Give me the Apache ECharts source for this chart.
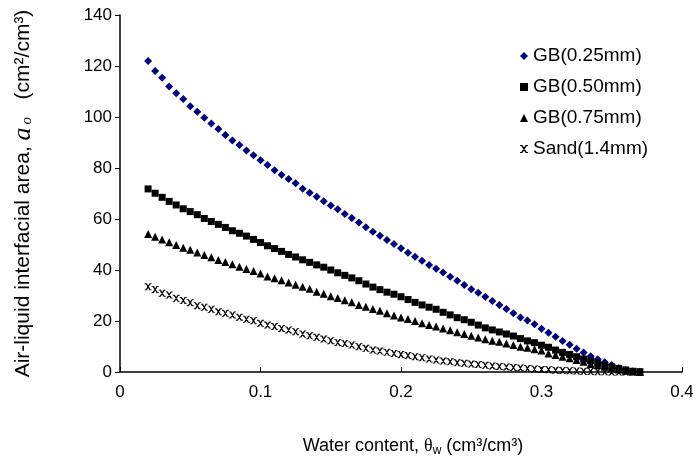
<!DOCTYPE html>
<html>
<head>
<meta charset="utf-8">
<script src="https://cdn.jsdelivr.net/npm/echarts@6/dist/echarts.min.js"></script>
<style>
  html, body { margin: 0; padding: 0; background: #fff; }
  #chart { width: 696px; height: 464px; }
</style>
</head>
<body>
<div id="chart"></div>
<script>
// water content, 0.02 .. 0.37 step 0.005
var waterContent = [];
for (var i = 0; i <= 70; i++) waterContent.push(+(0.02 + i * 0.005).toFixed(3));

var gb025 = [122.0, 118.0, 115.4, 112.0, 109.3, 107.1, 104.2, 102.1, 99.7, 97.5,
  95.3, 92.9, 90.8, 89.0, 86.9, 85.0, 83.0, 81.2, 79.1, 77.4,
  75.7, 74.0, 71.9, 70.3, 68.7, 67.0, 65.3, 63.8, 62.0, 60.4,
  58.6, 56.8, 55.0, 53.4, 51.8, 50.2, 48.5, 46.8, 45.2, 43.6,
  42.0, 40.5, 39.0, 37.4, 35.8, 34.1, 32.5, 31.1, 29.5, 27.8,
  26.3, 24.7, 23.0, 21.4, 20.2, 18.7, 17.0, 15.4, 13.8, 12.2,
  10.7, 9.1, 7.6, 6.2, 5.0, 3.8, 2.7, 1.5, 0.7, 0.2, 0.0];

var gb050 = [71.8, 70.1, 68.5, 66.9, 65.5, 64.0, 62.9, 61.7, 60.2, 59.0,
  57.9, 56.7, 55.4, 54.4, 53.3, 52.0, 50.8, 49.5, 48.4, 47.3,
  46.1, 45.1, 44.0, 43.0, 42.0, 41.1, 40.0, 38.9, 37.9, 36.9,
  35.8, 34.5, 33.3, 32.3, 31.3, 30.5, 29.5, 28.4, 27.3, 26.3,
  25.4, 24.6, 23.4, 22.4, 21.3, 20.5, 19.5, 18.4, 17.3, 16.5,
  15.7, 14.9, 14.1, 13.1, 12.2, 11.5, 10.5, 9.7, 8.6, 7.7,
  6.9, 6.0, 5.1, 4.4, 3.4, 2.6, 2.0, 1.4, 0.8, 0.3, 0.1];

var gb075 = [54.1, 53.0, 52.0, 50.9, 49.8, 48.7, 47.9, 46.9, 45.9, 45.0,
  43.9, 43.1, 42.3, 41.3, 40.4, 39.6, 38.6, 37.5, 36.8, 36.0,
  35.1, 34.2, 33.4, 32.6, 31.5, 30.7, 29.7, 29.0, 28.1, 27.4,
  26.3, 25.6, 24.7, 24.0, 23.0, 22.2, 21.4, 20.8, 20.0, 19.1,
  18.4, 17.8, 17.1, 16.4, 15.6, 14.9, 14.2, 13.5, 12.8, 12.3,
  11.9, 11.2, 10.6, 9.9, 9.5, 8.9, 8.4, 7.3, 6.7, 6.0,
  5.4, 4.7, 4.0, 3.1, 2.6, 2.1, 1.5, 1.0, 0.5, 0.2, 0.0];

var sand14 = [33.4, 32.4, 30.9, 30.2, 28.9, 28.0, 27.2, 26.0, 25.4, 24.6,
  23.6, 23.0, 22.4, 21.5, 20.7, 20.1, 19.1, 18.4, 17.8, 17.1,
  16.5, 15.8, 14.9, 14.2, 13.6, 12.9, 12.3, 11.6, 11.2, 10.6,
  9.9, 9.3, 8.6, 8.2, 7.7, 7.3, 6.9, 6.5, 6.0, 5.6,
  5.1, 4.7, 4.3, 4.0, 3.6, 3.4, 3.1, 2.9, 2.6, 2.4,
  2.2, 2.0, 1.8, 1.6, 1.4, 1.2, 1.0, 0.9, 0.7, 0.6,
  0.5, 0.4, 0.3, 0.2, 0.1, 0.1, 0.0, 0.0, 0.0, 0.0, 0.0];

var seriesNames = ['GB(0.25mm)', 'GB(0.50mm)', 'GB(0.75mm)', 'Sand(1.4mm)'];

// x-like marker with small bars top and bottom
var sandSymbol = 'path://M0,0 L3,0 L3,1.2 L0,1.2 Z M7,0 L10,0 L10,1.2 L7,1.2 Z M0,8.8 L3,8.8 L3,10 L0,10 Z M7,8.8 L10,8.8 L10,10 L7,10 Z M0.8,0 L3,0 L9.2,10 L7,10 Z M7,0 L9.2,0 L3,10 L0.8,10 Z';

function pairs(ys) {
  return ys.map(function (y, k) { return [waterContent[k], y]; });
}

function makeSerie(name, ys, symbol, size, color) {
  return {
    name: name,
    type: 'scatter',
    data: pairs(ys),
    symbol: symbol,
    symbolSize: size,
    itemStyle: { color: color, opacity: 1 },
    animation: false
  };
}

var font = '"Liberation Sans", Arial, sans-serif';
var serif = '"Liberation Serif", "Times New Roman", serif';
var chart = echarts.init(document.getElementById('chart'));

chart.setOption({
  backgroundColor: '#fff',
  textStyle: { fontFamily: font, color: '#000' },
  grid: { left: 120, right: 14, top: 15, bottom: 92, outerBoundsMode: 'none' },
  legend: {
    orient: 'vertical',
    left: 515,
    top: 41,
    itemGap: 11,
    itemWidth: 8,
    itemHeight: 8,
    data: [
      { name: seriesNames[0], icon: 'diamond', itemStyle: { color: '#000080' } },
      { name: seriesNames[1], icon: 'rect' },
      { name: seriesNames[2], icon: 'triangle' },
      { name: seriesNames[3], icon: sandSymbol }
    ],
    textStyle: { fontFamily: font, fontSize: 19, color: '#000', lineHeight: 20 }
  },
  xAxis: {
    type: 'value',
    min: 0,
    max: 0.4,
    interval: 0.1,
    splitLine: { show: false },
    axisLine: { lineStyle: { color: '#000', width: 1.5 } },
    axisTick: { inside: true, length: 5, lineStyle: { color: '#000' } },
    axisLabel: { color: '#000', fontSize: 17, margin: 12, fontFamily: font },
    name: '{t|Water content, }{g|θ}{s|w}{t| (cm³/cm³)}',
    nameLocation: 'middle',
    nameGap: 64,
    nameTextStyle: {
      padding: [0, 0, 0, 24],
      rich: {
        t: { fontFamily: font, fontSize: 18, color: '#000' },
        g: { fontFamily: serif, fontSize: 18, color: '#000' },
        s: { fontFamily: font, fontSize: 12, color: '#000', padding: [9, 0, 0, 0] }
      }
    }
  },
  yAxis: {
    type: 'value',
    min: 0,
    max: 140,
    interval: 20,
    splitLine: { show: false },
    axisLine: { show: true, lineStyle: { color: '#000', width: 1.5 } },
    axisTick: { show: true, inside: false, length: 5, lineStyle: { color: '#000' } },
    axisLabel: { color: '#000', fontSize: 17, margin: 8, fontFamily: font },
    name: '{t|Air-liquid interfacial area, }{a|a}{s|o}{t|   (cm²/cm³)}',
    nameLocation: 'middle',
    nameRotate: 90,
    nameGap: 84,
    nameTextStyle: {
      rich: {
        t: { fontFamily: font, fontSize: 21, color: '#000' },
        a: { fontFamily: serif, fontStyle: 'italic', fontSize: 26, color: '#000' },
        s: { fontFamily: serif, fontStyle: 'italic', fontSize: 15, color: '#000', padding: [9, 0, 0, 3] }
      }
    }
  },
  series: [
    makeSerie(seriesNames[0], gb025, 'diamond', 8, '#000080'),
    makeSerie(seriesNames[1], gb050, 'rect', 7, '#000'),
    makeSerie(seriesNames[2], gb075, 'triangle', 8, '#000'),
    makeSerie(seriesNames[3], sand14, sandSymbol, 7, '#000')
  ]
});
</script>
</body>
</html>
